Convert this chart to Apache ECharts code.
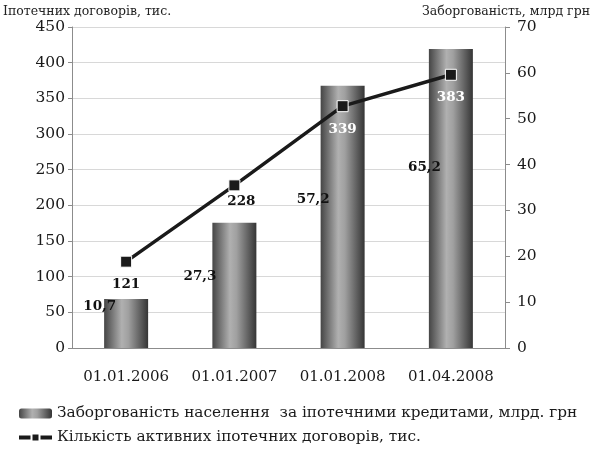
<!DOCTYPE html>
<html>
<head>
<meta charset="utf-8">
<script src="https://cdn.jsdelivr.net/npm/echarts@6/dist/echarts.min.js"></script>
<style>
  html, body {margin: 0; padding: 0; background: #fff;}
  #chart {width: 593px; height: 457px;}
</style>
</head>
<body>
<div id="chart"></div>
<script>
// дані з рисунку
var dates = ['01.01.2006', '01.01.2007', '01.01.2008', '01.04.2008'];
var debt = [10.7, 27.3, 57.2, 65.2];          // млрд грн, права вісь
var contracts = [121, 228, 339, 383];         // тис., ліва вісь
var leftTicks = [0, 450, 50];                 // min, max, interval
var rightTicks = [0, 70, 10];

// where the bar labels sit relative to each bar (x from left edge, y from top)
var barLabelPos = [[12, 8], [4, 54], [9, 114], [12, 118]];
var lineLabelColor = ['#111', '#111', '#fff', '#fff'];

var serif = 'DejaVu Serif';

var barGrad = new echarts.graphic.LinearGradient(0, 0, 1, 0, [
    {offset: 0, color: '#454545'},
    {offset: 0.4, color: '#b0b0b0'},
    {offset: 0.55, color: '#a0a0a0'},
    {offset: 1, color: '#353535'}
]);

var barData = debt.map(function (v, i) {
    return {
        value: v,
        label: {position: barLabelPos[i]}
    };
});

var lineData = contracts.map(function (v, i) {
    var item = {value: v, label: {color: lineLabelColor[i]}};
    if (i === 1) {
        item.label.offset = [7, -7];
    }
    return item;
});

var myChart = echarts.init(document.getElementById('chart'));

var option = {
    animation: false,
    textStyle: {fontFamily: serif},
    title: [
        {
            text: 'Іпотечних договорів, тис.',
            left: -2, top: 0,
            textStyle: {fontFamily: serif, fontSize: 12.5, fontWeight: 'normal', color: '#222'}
        },
        {
            text: 'Заборгованість, млрд грн',
            right: -2, top: 0,
            textStyle: {fontFamily: serif, fontSize: 12.5, fontWeight: 'normal', color: '#222'}
        }
    ],
    grid: {left: 72, right: 88, top: 27, bottom: 109},
    legend: {
        orient: 'vertical',
        left: 12,
        top: 401,
        itemGap: 9,
        itemWidth: 33,
        itemHeight: 10,
        lineStyle: {width: 4},
        textStyle: {fontFamily: serif, fontSize: 15.3, color: '#1a1a1a'},
        data: [
            'Заборгованість населення  за іпотечними кредитами, млрд. грн',
            'Кількість активних іпотечних договорів, тис.'
        ]
    },
    xAxis: {
        type: 'category',
        data: dates,
        axisLine: {lineStyle: {color: '#8c8c8c'}},
        axisTick: {length: 6, lineStyle: {color: '#8c8c8c'}},
        axisLabel: {fontFamily: serif, fontSize: 15, color: '#1a1a1a', margin: 22, interval: 0}
    },
    yAxis: [
        {
            type: 'value',
            min: leftTicks[0],
            max: leftTicks[1],
            interval: leftTicks[2],
            axisLine: {show: true, lineStyle: {color: '#8c8c8c'}},
            axisTick: {show: true, length: 4, lineStyle: {color: '#8c8c8c'}},
            axisLabel: {fontFamily: serif, fontSize: 15.5, color: '#1a1a1a', margin: 7},
            splitLine: {lineStyle: {color: '#d8d8d8'}}
        },
        {
            type: 'value',
            min: rightTicks[0],
            max: rightTicks[1],
            interval: rightTicks[2],
            axisLine: {show: true, lineStyle: {color: '#8c8c8c'}},
            axisTick: {show: true, length: 5, lineStyle: {color: '#8c8c8c'}},
            axisLabel: {fontFamily: serif, fontSize: 15.5, color: '#1a1a1a', margin: 12},
            splitLine: {show: false}
        }
    ],
    series: [
        {
            name: 'Заборгованість населення  за іпотечними кредитами, млрд. грн',
            type: 'bar',
            yAxisIndex: 1,
            barWidth: 44,
            data: barData,
            itemStyle: {color: barGrad},
            label: {
                show: true,
                align: 'right',
                verticalAlign: 'middle',
                fontFamily: serif,
                fontWeight: 'bold',
                fontSize: 13.5,
                color: '#111',
                formatter: function (p) {
                    return String(p.value).replace('.', ',');
                }
            },
            z: 2
        },
        {
            name: 'Кількість активних іпотечних договорів, тис.',
            type: 'line',
            yAxisIndex: 0,
            data: lineData,
            symbol: 'rect',
            symbolSize: 11,
            lineStyle: {color: '#1a1a1a', width: 3.5},
            itemStyle: {color: '#1a1a1a', borderColor: '#fff', borderWidth: 1},
            label: {
                show: true,
                position: 'bottom',
                distance: 10,
                fontFamily: serif,
                fontWeight: 'bold',
                fontSize: 13.5
            },
            z: 5
        }
    ]
};

myChart.setOption(option);
</script>
</body>
</html>
